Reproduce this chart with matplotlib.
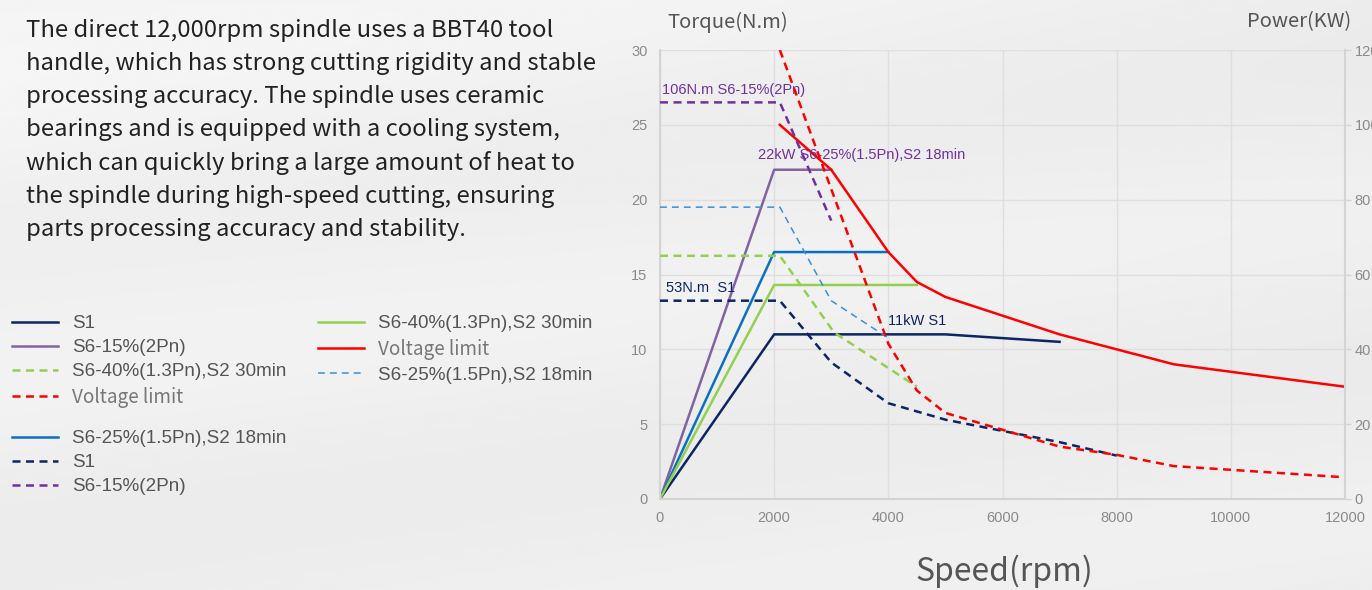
import numpy as np
import matplotlib.pyplot as plt

# power curves (kW), left scale
speed_s1 = [0, 2000, 5000, 7000]
power_s1 = [0, 11, 11, 10.5]
speed_s6_15 = [0, 2000, 3000]
power_s6_15 = [0, 22, 22]
speed_s6_25 = [0, 2000, 4000]
power_s6_25 = [0, 16.5, 16.5]
speed_s6_40 = [0, 2000, 4500]
power_s6_40 = [0, 14.3, 14.3]
speed_vlim = [2100, 3000, 4000, 4500, 5000, 7000, 9000, 12000]
power_vlim = [25, 22, 16.5, 14.5, 13.5, 11, 9, 7.5]

# torque curves (N.m), right scale 0-120
tspeed_s1 = [0, 2100, 3000, 4000, 5000, 7000, 8000]
torque_s1 = [53, 53, 36.5, 25.6, 21.2, 15.2, 11.6]
tspeed_s6_15 = [0, 2100, 3000]
torque_s6_15 = [106, 106, 74.4]
tspeed_s6_25 = [0, 2100, 3000, 4000]
torque_s6_25 = [78, 78, 53, 43]
tspeed_s6_40 = [0, 2100, 3050, 4000, 4500]
torque_s6_40 = [65, 65, 44.5, 35, 30]
tspeed_vlim = [2100, 4000, 4500, 5000, 7000, 8000, 9000, 12000]
torque_vlim = [120, 41.5, 29, 23, 14, 11.8, 8.8, 5.8]

xticks = [0, 2000, 4000, 6000, 8000, 10000, 12000]
lticks = [0, 5, 10, 15, 20, 25, 30]
rticks = [0, 20, 40, 60, 80, 100, 120]

navy = '#0b2566'
purple = '#8064a2'
dpurple = '#7030a0'
green = '#92d050'
red = '#ff0000'
blue = '#0a70c4'
lblue = '#3a8fd8'
tick_col = '#8a8a8a'
grid_col = '#dedede'

paragraph = [
    "The direct 12,000rpm spindle uses a BBT40 tool",
    "handle, which has strong cutting rigidity and stable",
    "processing accuracy. The spindle uses ceramic",
    "bearings and is equipped with a cooling system,",
    "which can quickly bring a large amount of heat to",
    "the spindle during high-speed cutting, ensuring",
    "parts processing accuracy and stability.",
]

W, H = 1372, 590
fig = plt.figure(figsize=(W / 100, H / 100), dpi=100)
fig.patch.set_facecolor('#efefef')

# soft background
bg = fig.add_axes([0, 0, 1, 1], zorder=-10)
yy, xx = np.mgrid[0:1:200j, 0:1:400j]
shade = 0.93 + 0.025 * (1 - yy) * (1 - xx) + 0.01 * np.sin(12 * (yy + 0.3 * xx))
bg.imshow(shade, cmap='gray', vmin=0, vmax=1, aspect='auto', extent=[0, 1, 0, 1])
bg.axis('off')

ax = fig.add_axes([660 / W, 1 - 499 / H, (1345 - 660) / W, (499 - 50) / H])
ax.patch.set_alpha(0)
ax.set_xlim(0, 12000)
ax.set_ylim(0, 30)
ax.set_xticks(xticks)
ax.set_yticks(lticks)
ax.grid(True, color=grid_col, lw=1)
ax.set_axisbelow(True)
for s in ['top', 'right']:
    ax.spines[s].set_visible(False)
for s in ['left', 'bottom']:
    ax.spines[s].set_color('#d4d4d4')
    ax.spines[s].set_linewidth(1.5)
ax.tick_params(axis='both', length=0, labelsize=10.5, colors=tick_col)
ax.tick_params(axis='x', pad=9)
ax.tick_params(axis='y', pad=9)

ax2 = ax.twinx()
ax2.set_ylim(0, 120)
ax2.set_yticks(rticks)
for s in ['top', 'left', 'bottom']:
    ax2.spines[s].set_visible(False)
ax2.spines['right'].set_color('#d4d4d4')
ax2.spines['right'].set_linewidth(1.5)
ax2.tick_params(axis='y', length=4, width=1, color='#d4d4d4', labelsize=10.5,
                labelcolor=tick_col, pad=3)
for lab in ax.get_xticklabels() + ax.get_yticklabels() + ax2.get_yticklabels():
    lab.set_fontfamily('Liberation Sans')

lw = 1.8
l_s1, = ax.plot(speed_s1, power_s1, color=navy, lw=lw)
l_s6_15, = ax.plot(speed_s6_15, power_s6_15, color=purple, lw=lw)
l_s6_25, = ax.plot(speed_s6_25, power_s6_25, color=blue, lw=lw)
l_s6_40, = ax.plot(speed_s6_40, power_s6_40, color=green, lw=lw)
l_vlim, = ax.plot(speed_vlim, power_vlim, color=red, lw=lw)

d_s1, = ax2.plot(tspeed_s1, torque_s1, color=navy, lw=lw, dashes=(3.2, 2.2))
d_s6_15, = ax2.plot(tspeed_s6_15, torque_s6_15, color=dpurple, lw=lw, dashes=(3.2, 2.2))
d_s6_25, = ax2.plot(tspeed_s6_25, torque_s6_25, color=lblue, lw=1.1, dashes=(4.5, 3.3))
d_s6_40, = ax2.plot(tspeed_s6_40, torque_s6_40, color=green, lw=lw, dashes=(3.2, 2.2))
d_vlim, = ax2.plot(tspeed_vlim, torque_vlim, color=red, lw=lw, dashes=(3.2, 2.2))

ann = dict(fontsize=10.5, family='Liberation Sans', va='center', ha='left')
ax.text(40, 27.3, "106N.m S6-15%(2Pn)", color=dpurple, **ann)
ax.text(1720, 23.0, "22kW S6-25%(1.5Pn),S2 18min", color=dpurple, **ann)
ax.text(110, 14.1, "53N.m  S1", color=navy, **ann)
ax.text(3990, 11.9, "11kW S1", color=navy, **ann)

fig.text(667 / W, 1 - 22 / H, "Torque(N.m)", fontsize=14.5, color='#555555',
         family='Noto Sans CJK SC', va='center', ha='left')
fig.text(1351 / W, 1 - 22 / H, "Power(KW)", fontsize=14.5, color='#555555',
         family='Noto Sans CJK SC', va='center', ha='right')
fig.text(1004 / W, 1 - 571 / H, "Speed(rpm)", fontsize=23, color='#555555',
         family='Noto Sans CJK SC', va='center', ha='center')

for i, line in enumerate(paragraph):
    fig.text(26 / W, 1 - (30 + i * 33.2) / H, line, fontsize=17.2, color='#222222',
             family='Noto Sans CJK SC', va='center', ha='left')

leg_kw = dict(frameon=False, loc='upper left', handlelength=2.45,
              handletextpad=0.75, labelspacing=0.36, borderpad=0, borderaxespad=0,
              labelcolor='#555555', prop={'family': 'Liberation Sans', 'size': 13.6})


def add_legend(handles, labels, x, y):
    leg = fig.legend(handles, labels, bbox_to_anchor=(x / W, 1 - y / H), **leg_kw)
    for t in leg.get_texts():
        if t.get_text() == "Voltage limit":
            t.set_fontfamily('Noto Sans CJK SC')
            t.set_color('#777777')
    return leg


add_legend([l_s1, l_s6_15, d_s6_40, d_vlim],
           ["S1", "S6-15%(2Pn)", "S6-40%(1.3Pn),S2 30min", "Voltage limit"], 12, 315)
add_legend([l_s6_40, l_vlim, d_s6_25],
           ["S6-40%(1.3Pn),S2 30min", "Voltage limit", "S6-25%(1.5Pn),S2 18min"], 318, 315)
add_legend([l_s6_25, d_s1, d_s6_15],
           ["S6-25%(1.5Pn),S2 18min", "S1", "S6-15%(2Pn)"], 12, 430)

fig.savefig('out.png', dpi=100)
